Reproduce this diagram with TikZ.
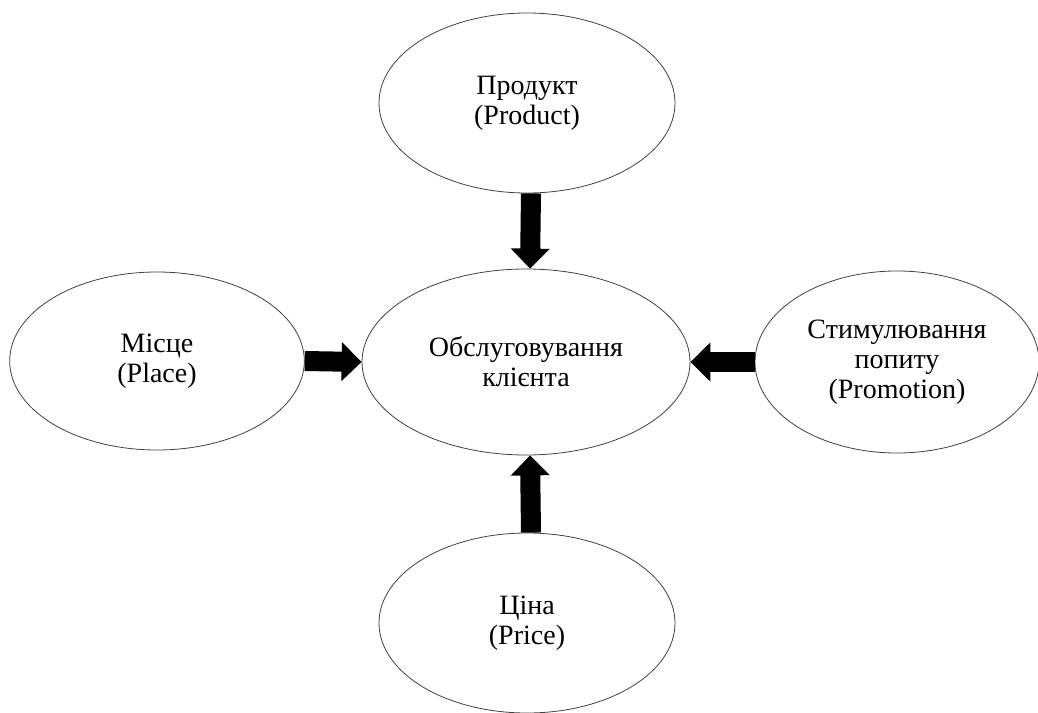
\documentclass[tikz,border=0pt]{standalone}
\usepackage{fontspec}
\setmainfont{Liberation Serif}
\usetikzlibrary{shapes.geometric, arrows.meta}

\tikzset{
	oval/.style = {ellipse, draw = black!75, line width = 0.6pt, inner sep = 0pt, align = center,
		font = \rmfamily\fontsize{21pt}{22.5pt}\selectfont},
	fat/.style = {line width = 15pt, -{Triangle[width = 28.5pt, length = 15pt]}}
}

\begin{document}
\begin{tikzpicture}[x = 0.75pt, y = -0.75pt]
		\useasboundingbox (0,0) rectangle (1038,713);
		
		\node[oval, minimum width = 246pt, minimum height = 139.5pt] (serv) at (526,362) {Обслуговування\\клієнта};
		
		\node[oval, minimum width = 222pt, minimum height = 135pt] (prod) at (527,103) {Продукт\\(Product)};
		\node[oval, minimum width = 222pt, minimum height = 135pt] (price) at (527,623) {Ціна\\(Price)};
		\node[oval, minimum width = 221pt, minimum height = 133.5pt] (place) at (157,361) {Місце\\(Place)};
		\node[oval, minimum width = 213pt, minimum height = 136.5pt] (promo) at (897,362) {Стимулювання\\попиту\\(Promotion)};
		
		\draw[fat] ([xshift = 3pt]prod.south) -- ([xshift = 3pt]serv.north);
		\draw[fat] ([xshift = 3pt]price.north) -- ([xshift = 3pt]serv.south);
		\draw[fat] (place.east) -- (serv.west);
		\draw[fat] (promo.west) -- (serv.east);
	\end{tikzpicture}
\end{document}
